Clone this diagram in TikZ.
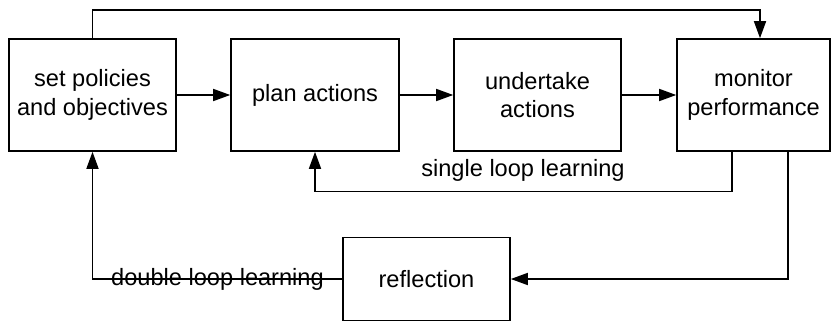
\documentclass[tikz,border=0pt]{standalone}
\usepackage{fontspec}
\setmainfont{Liberation Sans}
\usetikzlibrary{arrows.meta}
\begin{document}
\begin{tikzpicture}[x=1pt,y=-1pt,
  stage/.style={draw, line width=1.6pt, inner sep=0pt, align=center,
    minimum height=112pt, font=\fontsize{23.6}{28.5}\selectfont},
  flow/.style={line width=1.6pt, -{Triangle[length=17pt,width=12pt]}},
  lbl/.style={font=\fontsize{23.6}{28.5}\selectfont, inner sep=0pt}]
  \useasboundingbox (0,0) rectangle (832,321);
  % main stages
  \node[stage, minimum width=167pt] (set)  at (92.5,95)  {set policies\\and objectives};
  \node[stage, minimum width=168pt] (plan) at (315,95)   {plan actions};
  \node[stage, minimum width=167pt] (act)  at (537.5,95) {undertake\\actions};
  \node[stage, minimum width=153pt] (mon)  at (753.5,95) {monitor\\performance};
  \node[stage, minimum width=167pt, minimum height=83pt] (refl) at (426.5,279) {reflection};
  % forward chain
  \draw[flow] (set) -- (plan);
  \draw[flow] (plan) -- (act);
  \draw[flow] (act) -- (mon);
  % bypass from objectives to monitoring
  \coordinate (topin) at ([xshift=6.5pt]mon.north);
  \draw[flow] (set.north) -- ++(0,-28) -| (topin);
  % single loop learning
  \coordinate (slout) at ([xshift=-21.5pt]mon.south);
  \draw[flow] (slout) -- ++(0,39.5) -| (plan.south);
  \node[lbl] (sl) at (523,170) {single loop learning};
  % double loop learning
  \coordinate (dlout) at ([xshift=34.5pt]mon.south);
  \draw[flow] (dlout) |- (refl.east);
  \draw[flow] (refl.west) -| (set.south);
  \node[lbl] (dl) at (217.5,279) {double loop learning};
\end{tikzpicture}
\end{document}
